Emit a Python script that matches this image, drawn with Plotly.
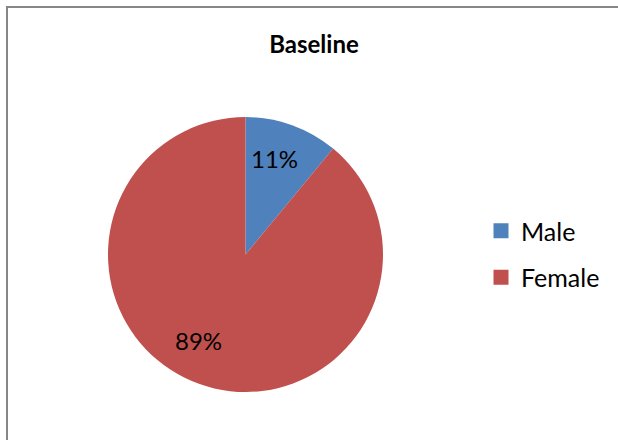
import math
import plotly.graph_objects as go

# Gender split at baseline
categories = ["Male", "Female"]
shares = [11, 89]
slice_colors = ["#4F81BD", "#C0504D"]
title_text = "Baseline"

W, H = 618, 440
FONT = "Lato, Carlito, sans-serif"

# pie placement (pixels)
CX, CY, R = 245.5, 254.5, 137.5
# data-label placement: fraction of radius and angular nudge per slice (degrees)
LABEL_RADIUS = [0.73, 0.71]
LABEL_NUDGE = [-3, 9]

fig = go.Figure()
fig.add_trace(
    go.Pie(
        labels=categories,
        values=shares,
        sort=False,
        direction="clockwise",
        rotation=0,
        marker=dict(colors=slice_colors, line=dict(width=0)),
        textinfo="none",
        domain=dict(x=[(CX - R) / W, (CX + R) / W], y=[1 - (CY + R) / H, 1 - (CY - R) / H]),
        hoverinfo="label+percent",
        showlegend=False,
    )
)

# legend entries, one group per category so they can be spaced apart
for name, color in zip(categories, slice_colors):
    fig.add_trace(
        go.Scatter(
            x=[None],
            y=[None],
            mode="markers",
            name=name,
            legendgroup=name,
            marker=dict(symbol="square", size=15, color=color),
            showlegend=True,
        )
    )

# percentage labels at the slice mid-angles
annotations = []
total = sum(shares)
start = 0.0
for i, v in enumerate(shares):
    span = 360.0 * v / total
    mid = math.radians(start + span / 2 + LABEL_NUDGE[i])
    rr = R * LABEL_RADIUS[i]
    px = CX + rr * math.sin(mid)
    py = CY - rr * math.cos(mid)
    annotations.append(
        dict(
            x=px / W,
            y=1 - py / H,
            xref="paper",
            yref="paper",
            text=f"{v}%",
            showarrow=False,
            xanchor="center",
            yanchor="middle",
            font=dict(family=FONT, size=24, color="#000000"),
        )
    )
    start += span

fig.update_layout(
    width=W,
    height=H,
    margin=dict(l=0, r=0, t=0, b=0),
    paper_bgcolor="white",
    plot_bgcolor="white",
    xaxis=dict(visible=False),
    yaxis=dict(visible=False),
    title=dict(
        text="<b>" + title_text + "</b>",
        x=314 / W,
        xanchor="center",
        y=1 - 45 / H,
        yanchor="middle",
        font=dict(family=FONT, size=24, color="#000000"),
    ),
    showlegend=True,
    legend=dict(
        x=481 / W,
        xanchor="left",
        y=1 - 254 / H,
        yanchor="middle",
        font=dict(family=FONT, size=25, color="#000000"),
        itemwidth=30,
        tracegroupgap=11,
        bgcolor="rgba(0,0,0,0)",
    ),
    annotations=annotations,
    shapes=[
        dict(
            type="rect",
            xref="paper",
            yref="paper",
            x0=7 / W,
            x1=1.05,
            y0=-0.05,
            y1=1 - 7 / H,
            line=dict(color="#878787", width=2),
            fillcolor="rgba(0,0,0,0)",
            layer="below",
        )
    ],
)

fig.write_html("out.html")
